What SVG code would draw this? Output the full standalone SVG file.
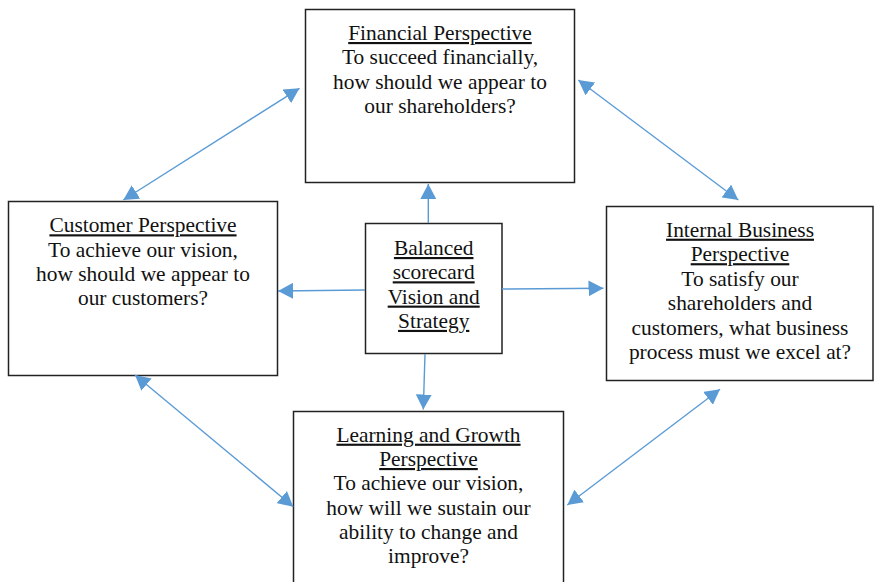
<svg xmlns="http://www.w3.org/2000/svg" width="874" height="582" viewBox="0 0 874 582">
<style>
.box{fill:#fff;stroke:#222;stroke-width:1.5}
.t{font-family:"Liberation Serif","Times New Roman",serif;font-size:21.4px;fill:#111;text-anchor:middle}
.u{text-decoration:underline}
.c{stroke:#5B9BD5;stroke-width:1.4;fill:none}
</style>
<defs>
<marker id="ah" markerUnits="userSpaceOnUse" viewBox="0 0 15 16" markerWidth="15" markerHeight="16" refX="15" refY="8" orient="auto-start-reverse">
<path d="M0,0 L15,8 L0,16 Z" fill="#5B9BD5"/>
</marker>
</defs>
<rect width="874" height="582" fill="#fff"/>
<g id="financial">
<rect class="box" x="305.5" y="9.5" width="269" height="173"/>
<text class="t" x="440" y="40"><tspan class="u">Financial Perspective</tspan><tspan x="440" dy="24.4">To succeed financially,</tspan><tspan x="440" dy="24.4">how should we appear to</tspan><tspan x="440" dy="24.4">our shareholders?</tspan></text>
</g>
<g id="customer">
<rect class="box" x="8.5" y="201.5" width="269" height="174"/>
<text class="t" x="143" y="232.3"><tspan class="u">Customer Perspective</tspan><tspan x="143" dy="24.2">To achieve our vision,</tspan><tspan x="143" dy="24.2">how should we appear to</tspan><tspan x="143" dy="24.2">our customers?</tspan></text>
</g>
<g id="center">
<rect class="box" x="365.5" y="223.5" width="136.5" height="130"/>
<text class="t u" x="433.7" y="255"><tspan x="433.7">Balanced</tspan><tspan x="433.7" dy="24.3">scorecard</tspan><tspan x="433.7" dy="24.3">Vision and</tspan><tspan x="433.7" dy="24.3">Strategy</tspan></text>
</g>
<g id="internal">
<rect class="box" x="606.5" y="206.5" width="266.5" height="174"/>
<text class="t" x="740" y="236.7"><tspan class="u">Internal Business</tspan><tspan x="740" dy="24.5" class="u">Perspective</tspan><tspan x="740" dy="24.5">To satisfy our</tspan><tspan x="740" dy="24.5">shareholders and</tspan><tspan x="740" dy="24.5">customers, what business</tspan><tspan x="740" dy="24.5">process must we excel at?</tspan></text>
</g>
<g id="learning">
<rect class="box" x="293.5" y="411.5" width="270" height="180"/>
<text class="t" x="428.5" y="441.7"><tspan class="u">Learning and Growth</tspan><tspan x="428.5" dy="24.3" class="u">Perspective</tspan><tspan x="428.5" dy="24.3">To achieve our vision,</tspan><tspan x="428.5" dy="24.3">how will we sustain our</tspan><tspan x="428.5" dy="24.3">ability to change and</tspan><tspan x="428.5" dy="24.3">improve?</tspan></text>
</g>
<g id="connectors">
<line class="c" x1="428.3" y1="223" x2="428.3" y2="184" marker-end="url(#ah)"/>
<line class="c" x1="425" y1="354" x2="423.3" y2="409.5" marker-end="url(#ah)"/>
<line class="c" x1="502" y1="289" x2="603.5" y2="288.3" marker-end="url(#ah)"/>
<line class="c" x1="365" y1="290" x2="278" y2="291" marker-end="url(#ah)"/>
<line class="c" x1="123.3" y1="200" x2="299.5" y2="88.3" marker-start="url(#ah)" marker-end="url(#ah)"/>
<line class="c" x1="578.3" y1="80" x2="738.3" y2="200" marker-start="url(#ah)" marker-end="url(#ah)"/>
<line class="c" x1="135" y1="375" x2="293.3" y2="506.7" marker-start="url(#ah)" marker-end="url(#ah)"/>
<line class="c" x1="720" y1="389.3" x2="567.3" y2="505" marker-start="url(#ah)" marker-end="url(#ah)"/>
</g>
</svg>
